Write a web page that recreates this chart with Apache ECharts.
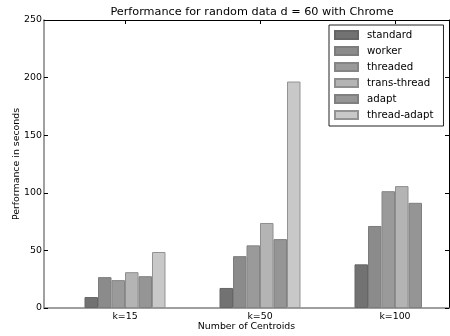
<!DOCTYPE html>
<html>
<head>
<meta charset="utf-8">
<script src="https://cdn.jsdelivr.net/npm/echarts@6/dist/echarts.min.js"></script>
<style>html,body{margin:0;padding:0;background:#fff}#c{width:450px;height:336px}</style>
</head>
<body>
<div id="c"></div>
<script>
const categories = ['k=15', 'k=50', 'k=100'];
const seriesNames = ['standard', 'worker', 'threaded', 'trans-thread', 'adapt', 'thread-adapt'];
const standard = [9.5, 17.4, 37.9];
const worker = [26.8, 45, 71.2];
const threaded = [24.2, 54.4, 101.4];
const transThread = [31.1, 73.8, 105.8];
const adapt = [27.6, 59.8, 91.3];
const threadAdapt = [48.6, 196.6, null];
const yTicks = [0, 50, 100, 150, 200, 250];

const seriesValues = [standard, worker, threaded, transThread, adapt, threadAdapt];
const fills = ['#727272', '#8b8b8b', '#9a9a9a', '#b4b4b4', '#959595', '#c8c8c8'];
const edges = ['#666666', '#7c7c7c', '#858585', '#8e8e8e', '#808080', '#939393'];
const barUnit = 0.1;
const FONT = 'DejaVu Sans';

const series = seriesValues.map((vals, j) => ({
  name: seriesNames[j],
  type: 'bar',
  barWidth: 13.5,
  barGap: '-100%',
  itemStyle: { color: fills[j], borderColor: edges[j], borderWidth: 1 },
  data: vals.map((v, i) => [i + (j - (seriesNames.length - 1) / 2) * barUnit, v]),
  animation: false
}));

const chart = echarts.init(document.getElementById('c'), null, { renderer: 'canvas' });
chart.setOption({
  animation: false,
  backgroundColor: '#ffffff',
  title: {
    text: 'Performance for random data d = 60 with Chrome',
    left: 247, top: 2, textAlign: 'center',
    textStyle: { fontFamily: FONT, fontSize: 11.25, fontWeight: 'normal', color: '#000' }
  },
  legend: {
    orient: 'vertical',
    left: 329, top: 25,
    padding: [4, 10, 5, 5],
    icon: 'rect',
    itemWidth: 23, itemHeight: 8, itemGap: 4,
    borderColor: '#222', borderWidth: 1, backgroundColor: '#fff',
    textStyle: { fontFamily: FONT, fontSize: 10.2, color: '#000', lineHeight: 12, padding: [0, 0, 0, 4] },
    data: seriesNames
  },
  grid: { left: 44, right: 1, top: 20, bottom: 28, containLabel: false, outerBoundsMode: 'none' },
  xAxis: [{
    type: 'value', min: -0.6, max: 2.4, position: 'bottom',
    name: 'Number of Centroids', nameLocation: 'middle', nameGap: 14, nameMoveOverlap: false,
    nameTextStyle: { fontFamily: FONT, fontSize: 9.4, color: '#000' },
    axisLine: { show: true, onZero: false, lineStyle: { color: '#808080', width: 1.5 } },
    axisTick: { show: true, inside: true, length: 4, customValues: [0, 1, 2], lineStyle: { color: '#000' } },
    axisLabel: { show: true, margin: 4, customValues: [0, 1, 2], formatter: v => categories[Math.round(v)], fontFamily: FONT, fontSize: 9.4, color: '#000' },
    splitLine: { show: false }
  }, {
    type: 'value', min: -0.6, max: 2.4, position: 'top',
    axisLine: { show: true, onZero: false, lineStyle: { color: '#000', width: 1 } },
    axisTick: { show: true, inside: true, length: 4, customValues: [0, 1, 2], lineStyle: { color: '#000' } },
    axisLabel: { show: false },
    splitLine: { show: false }
  }],
  yAxis: [{
    type: 'value', min: 0, max: 250, interval: 50, position: 'left',
    name: 'Performance in seconds', nameLocation: 'middle', nameGap: 23, nameRotate: 90, nameMoveOverlap: false,
    nameTextStyle: { fontFamily: FONT, fontSize: 9.4, color: '#000' },
    axisLine: { show: true, onZero: false, lineStyle: { color: '#808080', width: 1.5 } },
    axisTick: { show: true, inside: true, length: 4, lineStyle: { color: '#000' } },
    axisLabel: { margin: 2, fontFamily: FONT, fontSize: 9.4, color: '#000', formatter: v => yTicks.includes(v) ? String(v) : '' },
    splitLine: { show: false }
  }, {
    type: 'value', min: 0, max: 250, interval: 50, position: 'right',
    axisLine: { show: true, onZero: false, lineStyle: { color: '#000', width: 1 } },
    axisTick: { show: true, inside: true, length: 4, lineStyle: { color: '#000' } },
    axisLabel: { show: false },
    splitLine: { show: false }
  }],
  series: series
});
</script>
</body>
</html>
